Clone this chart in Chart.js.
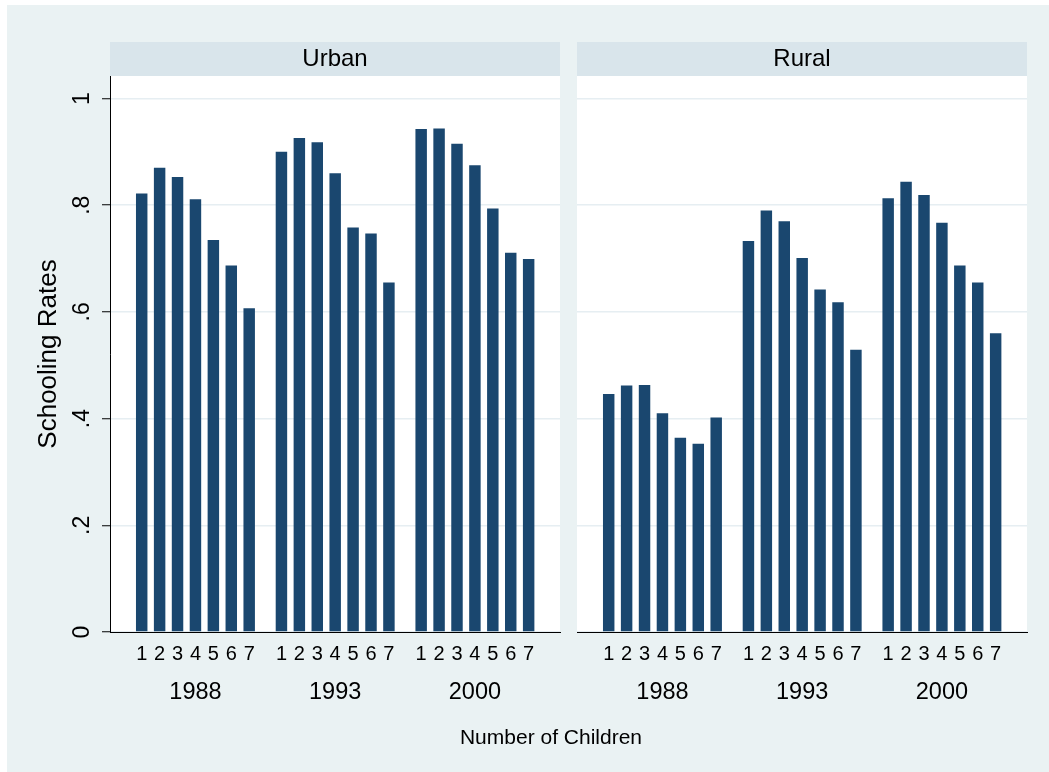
<!DOCTYPE html>
<html>
<head>
<meta charset="utf-8">
<script src="https://cdn.jsdelivr.net/npm/chart.js@4/dist/chart.umd.min.js"></script>
<style>
  html, body { margin: 0; padding: 0; background: #ffffff; width: 1049px; height: 772px; overflow: hidden; }
  #bg { position: absolute; left: 7px; top: 5px; width: 1100px; height: 800px; background: #EAF2F3; }
  canvas { position: absolute; top: 0; }
  #c1 { left: 0px; }
  #c2 { left: 567px; }
  #xtitle { position: absolute; left: 401px; width: 300px; top: 725px; text-align: center;
            font: 21px "Liberation Sans", Arial, sans-serif; line-height: 24px; color: #000; }
</style>
</head>
<body>
<div id="bg"></div>
<canvas id="c1" width="570" height="772"></canvas>
<canvas id="c2" width="482" height="772"></canvas>
<div id="xtitle">Number of Children</div>
<script>
// ---- data ----
const YEARS = ['1988', '1993', '2000'];
const CHILDREN = ['1', '2', '3', '4', '5', '6', '7'];
const Y_TICKS = [0, 0.2, 0.4, 0.6, 0.8, 1];
const Y_TICK_LABELS = ['0', '.2', '.4', '.6', '.8', '1'];

const urban1988 = [0.822, 0.870, 0.853, 0.811, 0.735, 0.687, 0.607];
const urban1993 = [0.900, 0.926, 0.918, 0.860, 0.758, 0.747, 0.655];
const urban2000 = [0.943, 0.944, 0.915, 0.875, 0.794, 0.711, 0.699];

const rural1988 = [0.446, 0.462, 0.463, 0.410, 0.364, 0.353, 0.402];
const rural1993 = [0.733, 0.790, 0.770, 0.701, 0.642, 0.618, 0.529];
const rural2000 = [0.813, 0.844, 0.819, 0.767, 0.687, 0.655, 0.560];

// ---- layout helpers ----
const GROUP_STEP = 7.8;           // slot units between year groups
const X_MIN = -1.77, X_MAX = 2 * GROUP_STEP + 6 + 1.75;
const BAR = '#1A476F';
const GRID = '#E6EEF2';
const STRIP = '#D9E5EB';
const FONT = '"Liberation Sans", Arial, sans-serif';

function slotPos(g, c) { return g * GROUP_STEP + c; }
function toPoints(groups) {
  const pts = [];
  groups.forEach((arr, g) => arr.forEach((v, c) => pts.push({ x: slotPos(g, c), y: v })));
  return pts;
}
const childTickValues = [];
YEARS.forEach((_, g) => CHILDREN.forEach((_, c) => childTickValues.push(slotPos(g, c))));
const yearTickValues = YEARS.map((_, g) => slotPos(g, (CHILDREN.length - 1) / 2));

const panelPlugin = {
  id: 'panel',
  beforeDraw(chart, args, opts) {
    const { ctx, chartArea: a } = chart;
    ctx.save();
    ctx.fillStyle = '#ffffff';
    ctx.fillRect(a.left, a.top, a.right - a.left, a.bottom - a.top);
    ctx.fillStyle = STRIP;
    ctx.fillRect(a.left, a.top - 34, a.right - a.left, 34);
    ctx.fillStyle = '#000';
    ctx.font = '24px ' + FONT;
    ctx.textAlign = 'center';
    ctx.textBaseline = 'middle';
    ctx.fillText(opts.title, (a.left + a.right) / 2, a.top - 17);
    ctx.restore();
  }
};

function makeChart(id, groups, title, showY) {
  const yScale = {
    min: 0, max: 1.0422,
    afterBuildTicks: s => { s.ticks = Y_TICKS.map(v => ({ value: v })); },
    afterFit: s => { s.width = showY ? 110 : 0; },
    grid: { color: GRID, lineWidth: 1.5, drawTicks: showY, tickColor: '#000', tickLength: 8, tickWidth: 1 },
    border: { display: showY, color: '#000', width: 1 },
    ticks: {
      display: showY, minRotation: 90, maxRotation: 90, crossAlign: 'center', padding: 10,
      color: '#000', font: { size: 23, family: FONT },
      callback: (v, i) => Y_TICK_LABELS[i]
    },
    title: {
      display: showY, text: 'Schooling Rates', color: '#000',
      font: { size: 26, family: FONT }, padding: { top: 33, bottom: 0 }
    }
  };
  return new Chart(document.getElementById(id), {
    type: 'bar',
    data: {
      datasets: [{
        data: toPoints(groups),
        backgroundColor: BAR,
        borderWidth: 0,
        categoryPercentage: 1,
        barPercentage: 0.64,
        xAxisID: 'x', yAxisID: 'y'
      }]
    },
    plugins: [panelPlugin],
    options: {
      animation: false, responsive: false, maintainAspectRatio: false,
      layout: { padding: showY ? { top: 76, left: 0, right: 10, bottom: 66 } : { top: 76, left: 10, right: 22, bottom: 66 } },
      plugins: { legend: { display: false }, tooltip: { enabled: false }, panel: { title: title } },
      scales: {
        x: {
          type: 'linear', position: 'bottom', min: X_MIN, max: X_MAX, offset: false, weight: 0,
          afterBuildTicks: s => { s.ticks = childTickValues.map(v => ({ value: v })); },
          afterFit: s => { s.height = 34; },
          grid: { display: false, drawTicks: false, tickLength: 0 },
          border: { display: true, color: '#000', width: 1 },
          ticks: {
            autoSkip: false, maxRotation: 0, minRotation: 0, padding: 10, color: '#000',
            font: { size: 20, family: FONT },
            callback: (v, i) => CHILDREN[i % CHILDREN.length]
          }
        },
        year: {
          type: 'linear', axis: 'x', position: 'bottom', min: X_MIN, max: X_MAX, offset: false, weight: 1,
          afterBuildTicks: s => { s.ticks = yearTickValues.map(v => ({ value: v })); },
          afterFit: s => { s.height = 40; },
          grid: { display: false, drawTicks: false, tickLength: 0 },
          border: { display: false },
          ticks: {
            autoSkip: false, maxRotation: 0, minRotation: 0, padding: 12, color: '#000',
            font: { size: 23.5, family: FONT },
            callback: (v, i) => YEARS[i]
          }
        },
        y: yScale
      }
    }
  });
}

makeChart('c1', [urban1988, urban1993, urban2000], 'Urban', true);
makeChart('c2', [rural1988, rural1993, rural2000], 'Rural', false);
</script>
</body>
</html>
